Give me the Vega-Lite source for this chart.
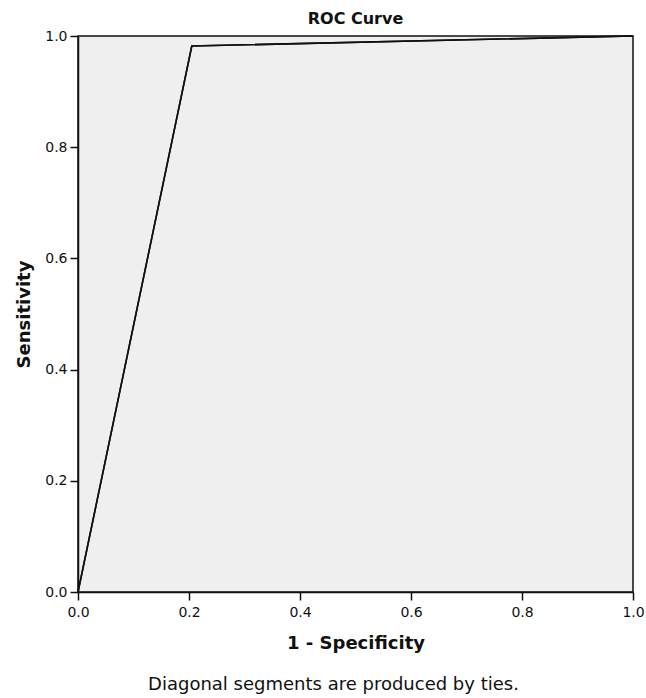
{
  "$schema": "https://vega.github.io/schema/vega-lite/v6.json",
  "autosize": "none",
  "width": 555,
  "height": 556,
  "padding": {"left": 78, "top": 36, "right": 13, "bottom": 106},
  "background": "white",
  "config": {
    "view": {"fill": "#efefef", "stroke": "#111111", "strokeWidth": 1.5},
    "font": "DejaVu Sans",
    "axis": {
      "grid": false,
      "domainColor": "#111111",
      "domainWidth": 1.5,
      "tickColor": "#111111",
      "tickWidth": 1.5,
      "tickSize": 8,
      "labelFont": "DejaVu Sans",
      "labelFontSize": 14,
      "labelColor": "#111111",
      "titleFont": "DejaVu Sans",
      "titleFontSize": 18,
      "titleFontWeight": "bold",
      "titleColor": "#111111"
    }
  },
  "title": {
    "text": "ROC Curve",
    "font": "DejaVu Sans",
    "fontSize": 16,
    "fontWeight": "bold",
    "color": "#111111",
    "anchor": "middle",
    "offset": 2
  },
  "data": {
    "values": [
      {"fpr": 0.0, "tpr": 0.0},
      {"fpr": 0.205, "tpr": 0.982},
      {"fpr": 1.0, "tpr": 1.0}
    ]
  },
  "layer": [
    {
      "mark": {"type": "line", "color": "#111111", "strokeWidth": 1.6},
      "encoding": {
        "x": {
          "field": "fpr",
          "type": "quantitative",
          "scale": {"domain": [0, 1], "nice": false},
          "axis": {
            "orient": "bottom",
            "title": "1 - Specificity",
            "values": [0, 0.2, 0.4, 0.6, 0.8, 1.0],
            "format": ".1f",
            "labelPadding": 5,
            "titlePadding": 15,
            "labelFlush": false
          }
        },
        "y": {
          "field": "tpr",
          "type": "quantitative",
          "scale": {"domain": [0, 1], "nice": false},
          "axis": {
            "title": "Sensitivity",
            "values": [0, 0.2, 0.4, 0.6, 0.8, 1.0],
            "format": ".1f",
            "labelPadding": 3,
            "titlePadding": 11,
            "labelFlush": false
          }
        }
      }
    },
    {
      "mark": {"type": "line", "color": "#111111", "strokeWidth": 1.6},
      "encoding": {
        "x": {
          "field": "fpr",
          "type": "quantitative",
          "axis": {
            "orient": "bottom",
            "title": "Diagonal segments are produced by ties.",
            "titleFontWeight": "normal",
            "titleFontSize": 18,
            "titleY": 83,
            "titleX": 255,
            "labels": false,
            "ticks": false,
            "domain": false
          }
        },
        "y": {"field": "tpr", "type": "quantitative"}
      }
    }
  ],
  "resolve": {"axis": {"x": "independent"}}
}
